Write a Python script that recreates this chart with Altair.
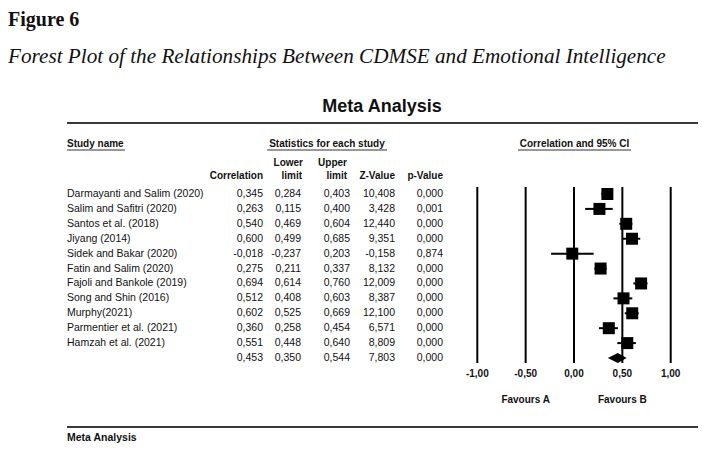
import altair as alt
import pandas as pd

# ---------------- data ----------------
studies = [
    "Darmayanti and Salim (2020)", "Salim and Safitri (2020)", "Santos et al. (2018)",
    "Jiyang (2014)", "Sidek and Bakar (2020)", "Fatin and Salim (2020)",
    "Fajoli and Bankole (2019)", "Song and Shin (2016)", "Murphy(2021)",
    "Parmentier et al. (2021)", "Hamzah et al. (2021)",
]
corr = [0.345, 0.263, 0.540, 0.600, -0.018, 0.275, 0.694, 0.512, 0.602, 0.360, 0.551]
lower = [0.284, 0.115, 0.469, 0.499, -0.237, 0.211, 0.614, 0.408, 0.525, 0.258, 0.448]
upper = [0.403, 0.400, 0.604, 0.685, 0.203, 0.337, 0.760, 0.603, 0.669, 0.454, 0.640]
zval = [10.408, 3.428, 12.440, 9.351, -0.158, 8.132, 12.009, 8.387, 12.100, 6.571, 8.809]
pval = [0.000, 0.001, 0.000, 0.000, 0.874, 0.000, 0.000, 0.000, 0.000, 0.000, 0.000]

sum_corr, sum_lower, sum_upper, sum_z, sum_p = 0.453, 0.350, 0.544, 7.803, 0.000

ticks = [-1.0, -0.5, 0.0, 0.5, 1.0]
tick_labels = ["-1,00", "-0,50", "0,00", "0,50", "1,00"]
favours = ["Favours A", "Favours B"]
favours_at = [-0.5, 0.5]


def fmt(v):
    return f"{v:.3f}".replace(".", ",")


n = len(studies)
rows = pd.DataFrame({
    "row": list(range(n)) + [n],
    "study": studies + [""],
    "corr": corr + [sum_corr],
    "lower": lower + [sum_lower],
    "upper": upper + [sum_upper],
    "z": zval + [sum_z],
    "p": pval + [sum_p],
})
for c in ["corr", "lower", "upper", "z", "p"]:
    rows[c + "_s"] = rows[c].map(fmt)

study_rows = rows.iloc[:n]
sum_row = n
dh = 0.34
diamond = pd.DataFrame({
    "dx": [sum_lower, sum_corr, sum_upper],
    "dy": [sum_row, sum_row - dh, sum_row],
    "dy2": [sum_row, sum_row + dh, sum_row],
})
tick_df = pd.DataFrame({"tick": ticks, "lab": tick_labels})
fav_df = pd.DataFrame({"fx": favours_at, "lab": favours})

# ---------------- scales ----------------
XS = alt.Scale(domain=[-1, 1], range=[469.3, 662.7])
YS = alt.Scale(domain=[0, n], range=[186, 350])

SANS = "Liberation Sans"
SERIF = "Liberation Serif"
INK = "#111111"
DATA_FS = 10.5


def label(text, x, y, size=10, weight="normal", align="left", font=SANS, style="normal",
          baseline="middle"):
    return alt.Chart(pd.DataFrame({"t": [text]})).mark_text(
        align=align, baseline=baseline, font=font, fontSize=size, fontWeight=weight,
        fontStyle=style, color=INK,
    ).encode(text="t:N", x=alt.value(x), y=alt.value(y))


def hline(x1, x2, y, width=1, color="#333333"):
    return alt.Chart(pd.DataFrame({"a": [0]})).mark_rule(
        strokeWidth=width, color=color
    ).encode(x=alt.value(x1), x2=alt.value(x2), y=alt.value(y))


def column(field, xr):
    return alt.Chart(rows).mark_text(
        align="right", baseline="middle", font=SANS, fontSize=DATA_FS, color=INK
    ).encode(x=alt.value(xr), y=alt.Y("row:Q", scale=YS, axis=None), text=f"{field}:N")


layers = [
    label("Figure 6", 0, 11.5, size=20, weight="bold", font=SERIF),
    label("Forest Plot of the Relationships Between CDMSE and Emotional Intelligence",
          0, 49, size=21.2, font=SERIF, style="italic"),
    label("Meta Analysis", 374, 99, size=18, weight="bold", align="center"),
    hline(59, 690, 115, width=2.2, color="#3a3a3a"),
    label("Study name", 59, 136, weight="bold"),
    hline(59, 117, 142),
    label("Statistics for each study", 319, 136, weight="bold", align="center"),
    hline(259, 379, 142),
    label("Correlation and 95% CI", 566.5, 136, weight="bold", align="center"),
    hline(510, 623, 142),
    label("Correlation", 255, 168, weight="bold", align="right"),
    label("Lower", 295, 155, weight="bold", align="right"),
    label("limit", 294, 168, weight="bold", align="right"),
    label("Upper", 339, 155, weight="bold", align="right"),
    label("limit", 339, 168, weight="bold", align="right"),
    label("Z-Value", 387, 168, weight="bold", align="right"),
    label("p-Value", 435, 168, weight="bold", align="right"),
    alt.Chart(rows).mark_text(
        align="left", baseline="middle", font=SANS, fontSize=DATA_FS, color=INK
    ).encode(x=alt.value(59), y=alt.Y("row:Q", scale=YS, axis=None), text="study:N"),
    column("corr_s", 255),
    column("lower_s", 293),
    column("upper_s", 342),
    column("z_s", 387),
    column("p_s", 435),
    # vertical reference lines
    alt.Chart(tick_df).mark_rule(color="#000000", strokeWidth=2).encode(
        x=alt.X("tick:Q", scale=XS, axis=None), y=alt.value(179), y2=alt.value(355)),
    alt.Chart(tick_df).mark_text(
        font=SANS, fontSize=10, fontWeight="bold", baseline="middle", align="center", color=INK
    ).encode(x=alt.X("tick:Q", scale=XS, axis=None), y=alt.value(366), text="lab:N"),
    alt.Chart(fav_df).mark_text(
        font=SANS, fontSize=10, fontWeight="bold", baseline="middle", align="center", color=INK
    ).encode(x=alt.X("fx:Q", scale=XS, axis=None), y=alt.value(392), text="lab:N"),
    # confidence intervals
    alt.Chart(study_rows).mark_rule(color="#000000", strokeWidth=2).encode(
        x=alt.X("lower:Q", scale=XS, axis=None), x2="upper:Q",
        y=alt.Y("row:Q", scale=YS, axis=None)),
    # point estimates
    alt.Chart(study_rows).mark_square(color="#000000", opacity=1, size=144).encode(
        x=alt.X("corr:Q", scale=XS, axis=None), y=alt.Y("row:Q", scale=YS, axis=None)),
    # summary diamond
    alt.Chart(diamond).mark_area(color="#000000", opacity=1).encode(
        x=alt.X("dx:Q", scale=XS, axis=None),
        y=alt.Y("dy:Q", scale=YS, axis=None), y2="dy2:Q"),
    hline(59, 690, 419, width=2.2, color="#3a3a3a"),
    label("Meta Analysis", 59, 429.5, size=10.5, weight="bold"),
]

chart = alt.layer(*layers).properties(
    width=702, height=436, padding=0, autosize=alt.AutoSizeParams(type="none")
).configure_view(stroke=None)

chart.save("out.html", embed_options={"renderer": "svg", "actions": False})
